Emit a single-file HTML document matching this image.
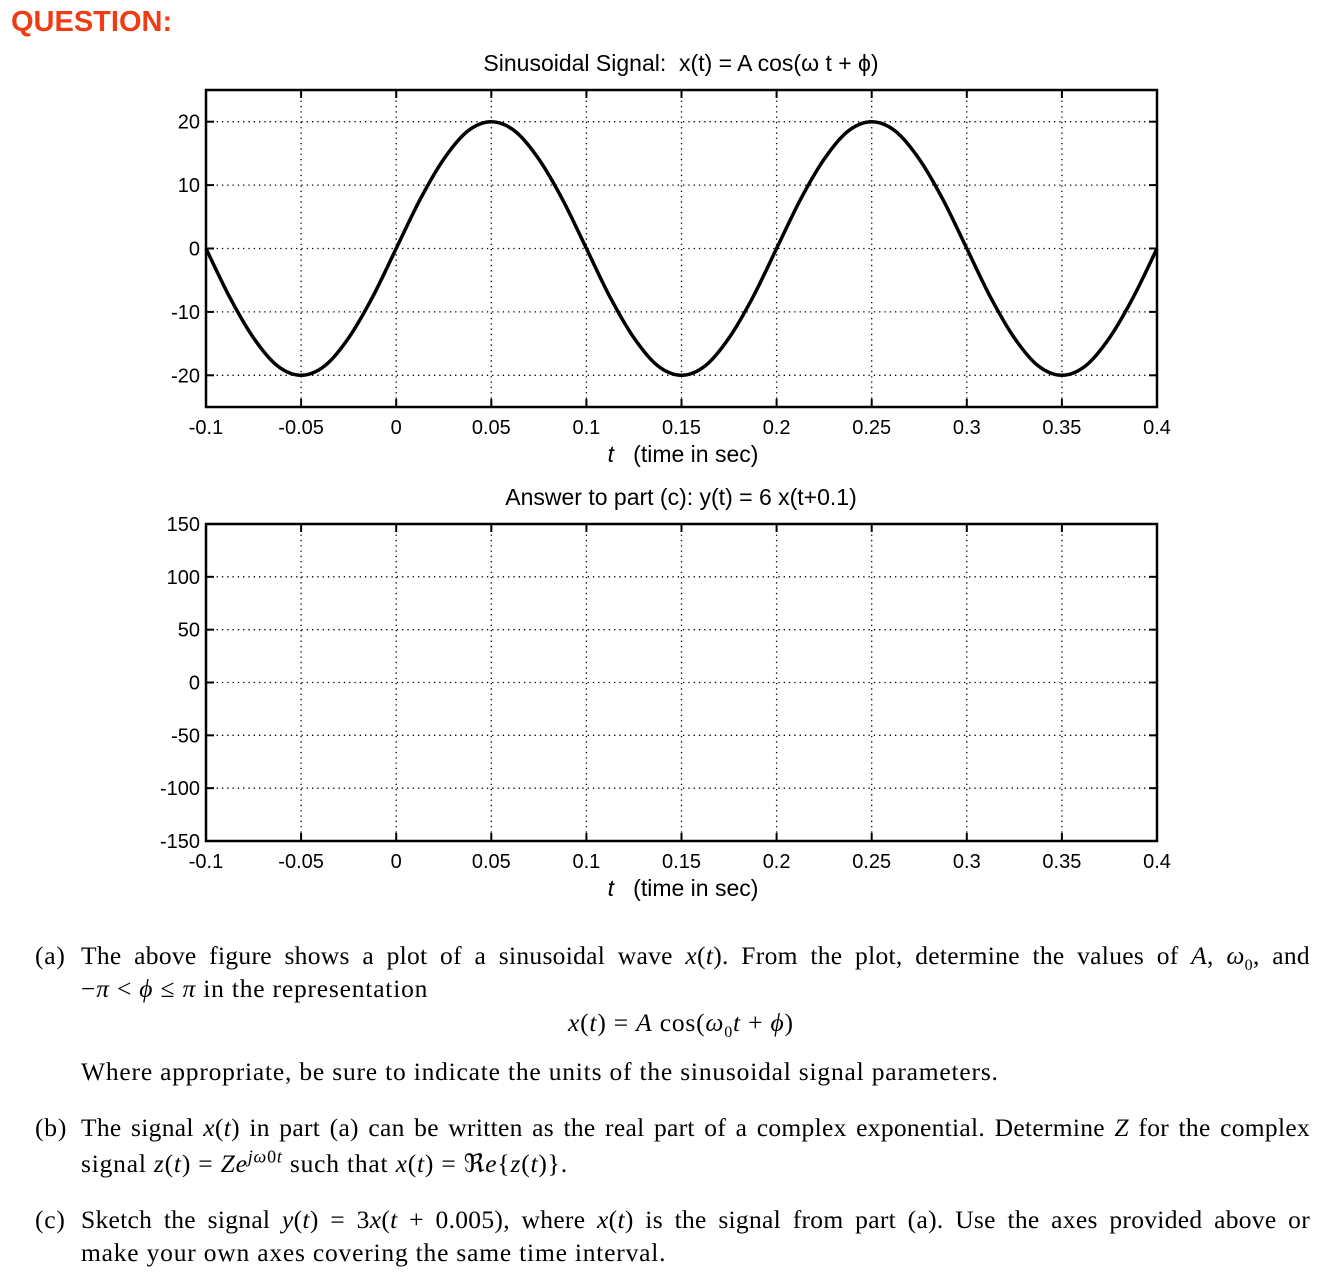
<!DOCTYPE html>
<html><head><meta charset="utf-8">
<style>
body{margin:0;width:1322px;height:1278px;background:#fff;position:relative;overflow:hidden;font-family:"Liberation Serif",serif;}
.t{position:absolute;font-size:25.5px;letter-spacing:0.8px;color:#000;white-space:nowrap;line-height:33px;}
.j{text-align:justify;text-align-last:justify;white-space:normal;letter-spacing:0.3px;}
i{font-style:italic}
</style></head>
<body>
<div style="position:absolute;left:11px;top:6px;font:bold 29px 'Liberation Sans',sans-serif;color:#f03c14;">QUESTION:</div>
<svg id="chart" width="1322" height="910" style="position:absolute;left:0;top:0" font-family="Liberation Sans, sans-serif"></svg>

<div class="t" style="left:35px;top:939px">(a)</div>
<div class="t j" style="left:81px;top:939px;width:1229px">The above figure shows a plot of a sinusoidal wave <i>x</i>(<i>t</i>). From the plot, determine the values of <i>A</i>, <i>ω</i><sub style="font-size:16px">0</sub>, and</div>
<div class="t" style="left:81px;top:972px">−<i>π</i> &lt; <i>ϕ</i> ≤ <i>π</i> in the representation</div>
<div class="t" style="left:568px;top:1006px"><i>x</i>(<i>t</i>) = <i>A</i> cos(<i>ω</i><sub style="font-size:16px">0</sub><i>t</i> + <i>ϕ</i>)</div>
<div class="t" style="left:81px;top:1055px">Where appropriate, be sure to indicate the units of the sinusoidal signal parameters.</div>
<div class="t" style="left:35px;top:1111px">(b)</div>
<div class="t j" style="left:81px;top:1111px;width:1229px">The signal <i>x</i>(<i>t</i>) in part (a) can be written as the real part of a complex exponential. Determine <i>Z</i> for the complex</div>
<div class="t" style="left:81px;top:1147px;line-height:33px">signal <i>z</i>(<i>t</i>) = <i>Ze</i><sup style="font-size:18px;line-height:0"><i>jω</i>0<i>t</i></sup> such that <i>x</i>(<i>t</i>) = ℜ<i>e</i>{<i>z</i>(<i>t</i>)}.</div>
<div class="t" style="left:35px;top:1203px">(c)</div>
<div class="t j" style="left:81px;top:1203px;width:1229px">Sketch the signal <i>y</i>(<i>t</i>) = 3<i>x</i>(<i>t</i> + 0.005), where <i>x</i>(<i>t</i>) is the signal from part (a). Use the axes provided above or</div>
<div class="t" style="left:81px;top:1236px">make your own axes covering the same time interval.</div>

<script>
const xTicks=[-0.1,-0.05,0,0.05,0.1,0.15,0.2,0.25,0.3,0.35,0.4];
const xTickLabels=["-0.1","-0.05","0","0.05","0.1","0.15","0.2","0.25","0.3","0.35","0.4"];
const y1Ticks=[20,10,0,-10,-20];
const y2Ticks=[150,100,50,0,-50,-100,-150];
const sigT=[];for(let k=0;k<=40;k++)sigT.push(-0.1+k*0.0125);
const sigX=[0,-7.7,-14.1,-18.5,-20,-18.5,-14.1,-7.7,0,7.7,14.1,18.5,20,18.5,14.1,7.7,
0,-7.7,-14.1,-18.5,-20,-18.5,-14.1,-7.7,0,7.7,14.1,18.5,20,18.5,14.1,7.7,
0,-7.7,-14.1,-18.5,-20,-18.5,-14.1,-7.7,0];

const NS="http://www.w3.org/2000/svg";
const svg=document.getElementById('chart');
function mk(tag,at,parent){const e=document.createElementNS(NS,tag);for(const k in at)e.setAttribute(k,at[k]);(parent||svg).appendChild(e);return e;}
const L=206,R=1157;
function sx(t){return L+(t+0.1)/0.5*(R-L);}
function axes(top,bot,ymin,ymax,yTicks,title,name){
  const sy=v=>bot-(v-ymin)/(ymax-ymin)*(bot-top);
  const g=mk('g',{});
  
  
  xTicks.forEach((t,i)=>{
    const x=sx(t);
    if(i>0&&i<xTicks.length-1){const gl=mk('line',{x1:x,x2:x,y1:top,y2:bot,stroke:'#000','stroke-width':1.3,'stroke-dasharray':'1.3 4'},g);
      }
    mk('line',{x1:x,x2:x,y1:top,y2:top+8,stroke:'#000','stroke-width':2},g);
    mk('line',{x1:x,x2:x,y1:bot,y2:bot-8,stroke:'#000','stroke-width':2},g);
    const tx=mk('text',{x:x,y:bot+27,'font-size':20,'text-anchor':'middle'},g);
    
    tx.textContent=xTickLabels[i];
  });
  yTicks.forEach(v=>{
    const y=sy(v);
    if(v>ymin&&v<ymax){const gl=mk('line',{x1:L,x2:R,y1:y,y2:y,stroke:'#000','stroke-width':1.3,'stroke-dasharray':'1.3 4'},g);
      }
    mk('line',{x1:L,x2:L+8,y1:y,y2:y,stroke:'#000','stroke-width':2},g);
    mk('line',{x1:R,x2:R-8,y1:y,y2:y,stroke:'#000','stroke-width':2},g);
    const tx=mk('text',{x:L-6,y:y+7,'font-size':20,'text-anchor':'end'},g);
    
    tx.textContent=String(v);
  });
  mk('rect',{x:L,y:top,width:R-L,height:bot-top,fill:'none',stroke:'#000','stroke-width':2.5},g);
  const tt=mk('text',{x:681,y:top-19,'font-size':23,'text-anchor':'middle'},g);
  
  tt.textContent=title;
  const xl=mk('text',{x:683,y:bot+55,'font-size':23,'text-anchor':'middle'},g);
  
  xl.innerHTML='<tspan font-style="italic">t</tspan>\u00a0\u00a0\u00a0(time in sec)';
  return sy;
}
const sy1=axes(90,407,-25,25,y1Ticks,'Sinusoidal Signal:\u00a0\u00a0x(t) = A cos(\u03C9 t + \u03D5)','signal-chart');
axes(524,841,-150,150,y2Ticks,'Answer to part (c): y(t) = 6 x(t+0.1)','answer-chart');
const P=sigT.map((t,i)=>[sx(t),sy1(sigX[i])]);
let d='M'+P[0][0]+','+P[0][1];
for(let i=0;i<P.length-1;i++){
  const p0=P[Math.max(0,i-1)],p1=P[i],p2=P[i+1],p3=P[Math.min(P.length-1,i+2)];
  d+=' C'+(p1[0]+(p2[0]-p0[0])/6)+','+(p1[1]+(p2[1]-p0[1])/6)+' '+(p2[0]-(p3[0]-p1[0])/6)+','+(p2[1]-(p3[1]-p1[1])/6)+' '+p2[0]+','+p2[1];
}
const curve=mk('path',{d:d,fill:'none',stroke:'#000','stroke-width':3.5});


</script>
</body></html>
